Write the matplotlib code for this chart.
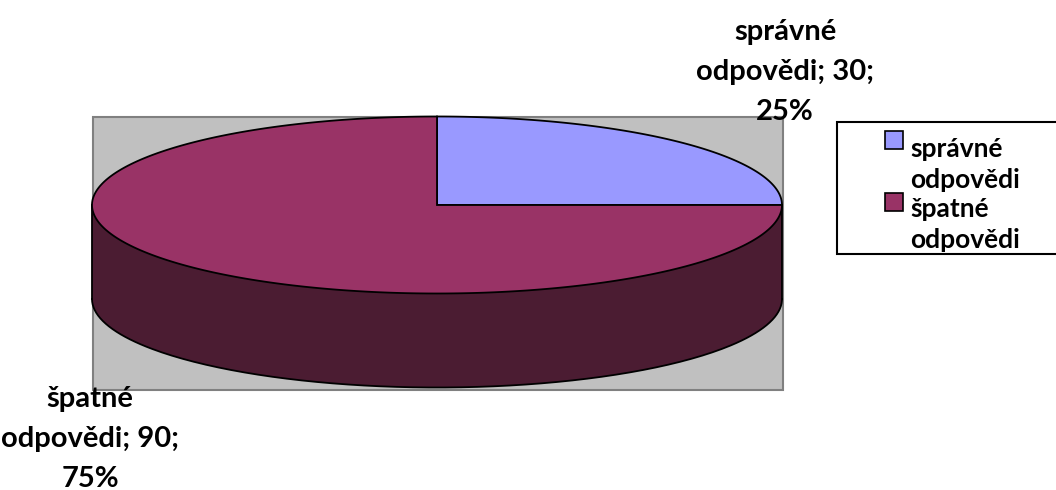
#!/usr/bin/env python3
# -*- coding: utf-8 -*-
"""Excel-style 3D pie: správné vs. špatné odpovědi."""

import numpy as np
import matplotlib.pyplot as plt
from matplotlib.patches import Polygon, Rectangle

categories = ["správné odpovědi", "špatné odpovědi"]
values = [30, 90]
top_colors = ["#9999FF", "#993366"]
side_colors = ["#4B1C32", "#4B1C32"]

plt.rcParams["font.family"] = ["Lato", "DejaVu Sans"]

W, H = 1056, 490
fig = plt.figure(figsize=(W / 100, H / 100), dpi=100)
ax = fig.add_axes([0, 0, 1, 1])
ax.set_xlim(0, W)
ax.set_ylim(H, 0)
ax.axis("off")

# plot area
ax.add_patch(Rectangle((93, 117), 690, 273, facecolor="#C0C0C0",
                       edgecolor="#808080", lw=1.5, zorder=1))

cx, cy, rx, ry, depth = 437.0, 205.0, 345.0, 88.5, 94.0


def rim(t0, t1, dy=0.0, n=200):
    t = np.radians(np.linspace(t0, t1, n))
    return np.column_stack([cx + rx * np.cos(t), cy - ry * np.sin(t) + dy])


total = float(sum(values))
# start at 12 o'clock, go clockwise
bounds = []
a = 90.0
for v in values:
    b = a - 360.0 * v / total
    bounds.append((b, a))
    a = b

# side wall, only the front half (180..360 deg) is visible
for (lo, hi), col in zip(bounds, side_colors):
    # map slice onto 180..360 range (angles here run from -270 to 90)
    s0 = max(180.0, lo + 360.0)
    s1 = min(360.0, hi + 360.0)
    if s1 <= s0:
        continue
    upper = rim(s0, s1)
    lower = rim(s1, s0, depth)
    ax.add_patch(Polygon(np.vstack([upper, lower]), closed=True,
                         facecolor=col, edgecolor="none", zorder=2))
lower_edge = rim(180, 360, depth)
ax.plot(lower_edge[:, 0], lower_edge[:, 1], color="black", lw=1.3, zorder=3)
for t in (180, 360):
    p = rim(t, t, 0, 1)[0]
    ax.plot([p[0], p[0]], [p[1], p[1] + depth], color="black", lw=1.3, zorder=3)

# top face
for (lo, hi), col in zip(bounds, top_colors):
    pts = np.vstack([[cx, cy], rim(hi, lo, 0, 400)])
    ax.add_patch(Polygon(pts, closed=True, facecolor=col,
                         edgecolor="black", lw=1.3, joinstyle="miter", zorder=4))

# data labels
label_xy = [(785, 72), (90, 439)]
for name, v, (x, y) in zip(categories, values, label_xy):
    pct = round(100 * v / total)
    first, second = name.split(" ", 1)
    txt = f"{first}\n{second}; {v};\n{pct}%"
    ax.text(x, y, txt, ha="center", va="center", fontsize=21,
            fontweight="bold", linespacing=1.66, zorder=5)

# legend
ax.add_patch(Rectangle((837, 122), 240, 132, facecolor="white",
                       edgecolor="black", lw=1.5, zorder=5, clip_on=False))
marker_y = [131, 193]
text_y = [164, 224]
for name, col, my, ty in zip(categories, top_colors, marker_y, text_y):
    ax.add_patch(Rectangle((885, my), 18, 18, facecolor=col,
                           edgecolor="black", lw=1.2, zorder=6))
    ax.text(910, ty, name.replace(" ", "\n"), ha="left", va="center",
            fontsize=19, fontweight="bold", linespacing=1.35, zorder=6)

fig.savefig("out.png", dpi=100)
